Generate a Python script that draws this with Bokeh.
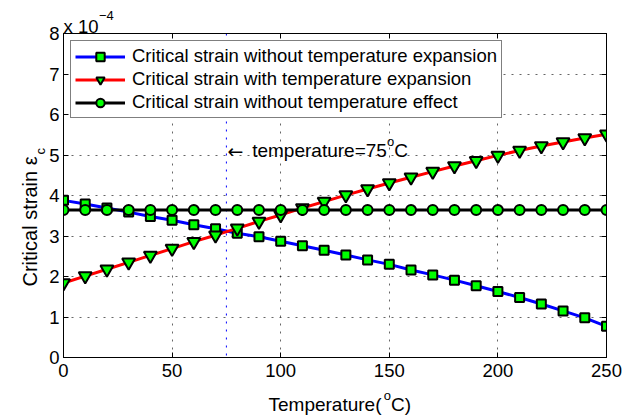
import math
from bokeh.plotting import figure
from bokeh.models import Range1d, FixedTicker, LinearAxis, Label, Span, Legend, LegendItem
from bokeh.embed import file_html
from bokeh.resources import INLINE

# ---------------- data (strain values in units of 1e-4) ----------------
temperature = [0, 10, 20, 30, 40, 50, 60, 70, 80, 90, 100, 110, 120,
               130, 140, 150, 160, 170, 180, 190, 200, 210, 220, 230, 240, 250]
strain_without_expansion = [3.88, 3.79, 3.69, 3.59, 3.48, 3.39, 3.28, 3.18, 3.07, 2.98,
                            2.87, 2.76, 2.65, 2.53, 2.41, 2.30, 2.16, 2.04, 1.91, 1.77,
                            1.63, 1.48, 1.32, 1.15, 0.98, 0.77]
strain_with_expansion = [1.84, 2.01, 2.18, 2.35, 2.52, 2.69, 2.86, 3.02, 3.19, 3.36,
                         3.52, 3.69, 3.85, 4.01, 4.16, 4.31, 4.45, 4.59, 4.73, 4.86,
                         4.99, 5.11, 5.22, 5.32, 5.42, 5.51]
strain_without_effect = [3.64, 3.64, 3.64, 3.64, 3.64, 3.64, 3.64, 3.64, 3.64, 3.64,
                         3.64, 3.64, 3.64, 3.64, 3.64, 3.64, 3.64, 3.64, 3.64, 3.64,
                         3.64, 3.64, 3.64, 3.64, 3.64, 3.64]
series_labels = ["Critical strain without temperature expansion",
                 "Critical strain with temperature expansion",
                 "Critical strain without temperature effect"]
x_ticks = [0, 50, 100, 150, 200, 250]
y_ticks = [0, 1, 2, 3, 4, 5, 6, 7, 8]
marker_temperature = 75
annotation_strain = 5.1

# ---------------- styling ----------------
FONT = "Liberation Sans"
X0, X1, Y0, Y1 = 0, 250, 0, 8
FRAME_LEFT, FRAME_BOTTOM = 63, 357   # page pixel of data (0, 0)

p = figure(frame_width=543, frame_height=324,
           x_range=Range1d(X0, X1), y_range=Range1d(Y0, Y1),
           output_backend="svg", toolbar_location=None,
           min_border_left=63, min_border_right=27, min_border_top=33, min_border_bottom=60,
           background_fill_color="white", border_fill_color="white",
           outline_line_color="black", outline_line_width=1)

for ax in (p.xaxis, p.yaxis):
    ax.major_tick_in = 5
    ax.major_tick_out = 0
    ax.minor_tick_line_color = None
    ax.axis_line_color = "black"
    ax.major_tick_line_color = "black"
    ax.major_label_text_font = FONT
    ax.major_label_text_font_size = "18.5px"
    ax.major_label_text_color = "black"
p.xaxis.ticker = FixedTicker(ticks=x_ticks)
p.yaxis.ticker = FixedTicker(ticks=y_ticks)
p.xaxis.major_label_standoff = 6
p.yaxis.major_label_standoff = 4

right_ax = LinearAxis(ticker=FixedTicker(ticks=y_ticks), major_tick_in=5, major_tick_out=0,
                      minor_tick_line_color=None, major_label_text_color=None,
                      major_label_text_font_size="2px",
                      axis_line_color="black", major_label_standoff=0)
top_ax = LinearAxis(ticker=FixedTicker(ticks=x_ticks), major_tick_in=5, major_tick_out=0,
                    minor_tick_line_color=None, major_label_text_color=None,
                    major_label_text_font_size="2px",
                    axis_line_color="black", major_label_standoff=0)
p.add_layout(right_ax, "right")
p.add_layout(top_ax, "above")

for g in (p.xgrid, p.ygrid):
    g.grid_line_color = "black"
    g.grid_line_alpha = 0.6
    g.grid_line_dash = "2 6"
    g.grid_line_width = 1

p.add_layout(Span(location=marker_temperature, dimension="height", line_color="#0000ff",
                  line_dash="2 6", line_width=1, level="underlay"))

GREEN = "#00ff00"
r1l = p.line(temperature, strain_without_expansion, line_color="#0000ff", line_width=3)
r1s = p.scatter(temperature, strain_without_expansion, marker="square", size=9,
                fill_color=GREEN, line_color="black", line_width=2)
r2l = p.line(temperature, strain_with_expansion, line_color="#ff0000", line_width=3)
r2s = p.scatter(temperature, strain_with_expansion, marker="inverted_triangle", size=13,
                fill_color=GREEN, line_color="black", line_width=2)
r3l = p.line(temperature, strain_without_effect, line_color="black", line_width=3)
r3s = p.scatter(temperature, strain_without_effect, marker="circle", size=10,
                fill_color=GREEN, line_color="black", line_width=2)

legend = Legend(items=[LegendItem(label=series_labels[0], renderers=[r1l, r1s]),
                       LegendItem(label=series_labels[1], renderers=[r2l, r2s]),
                       LegendItem(label=series_labels[2], renderers=[r3l, r3s])],
                location="top_left", margin=7, padding=4, spacing=1,
                glyph_width=50, glyph_height=21, label_height=21, label_standoff=7,
                label_text_font=FONT, label_text_font_size="18.5px", label_text_color="black",
                border_line_color="black", border_line_width=1,
                background_fill_color="white", background_fill_alpha=1)
p.add_layout(legend)


def page_label(text, px, py, size, angle=0.0, align="left", font=FONT):
    return Label(x=X0, y=Y0, x_offset=px - FRAME_LEFT, y_offset=FRAME_BOTTOM - py,
                 text=text, angle=angle, text_align=align, text_baseline="alphabetic",
                 text_font=font, text_font_size=f"{size}px", text_color="black")


def ann_label(text, dx, dy, size, font=FONT):
    return Label(x=marker_temperature, y=annotation_strain, x_offset=dx, y_offset=dy,
                 text=text, text_align="left", text_baseline="alphabetic",
                 text_font=font, text_font_size=f"{size}px", text_color="black")


# annotation next to the blue marker line
p.add_layout(ann_label("\u2190", 1, 0, 19, font="DejaVu Sans"))
p.add_layout(ann_label(f"temperature={marker_temperature}", 25.8, 0, 19))
p.add_layout(ann_label("o", 160.6, 9, 13))
p.add_layout(ann_label("C", 167.8, 0, 19))

# x axis label (placed in the bottom panel so it is not clipped to the frame)
p.add_layout(page_label("Temperature(", 268, 404, 19), "below")
p.add_layout(page_label("o", 383.3, 394.5, 13), "below")
p.add_layout(page_label("C)", 390.5, 404, 19), "below")

# y axis label
p.add_layout(page_label("Critical strain \u03b5", 29, 286, 20, angle=math.pi / 2), "left")
p.add_layout(page_label("c", 40, 154, 13, angle=math.pi / 2), "left")

# exponent label
p.add_layout(page_label("x 10", 63, 26, 18.5), "above")
p.add_layout(page_label("\u22124", 98.5, 15, 13), "above")

open("out.html", "w").write(file_html(p, INLINE))
